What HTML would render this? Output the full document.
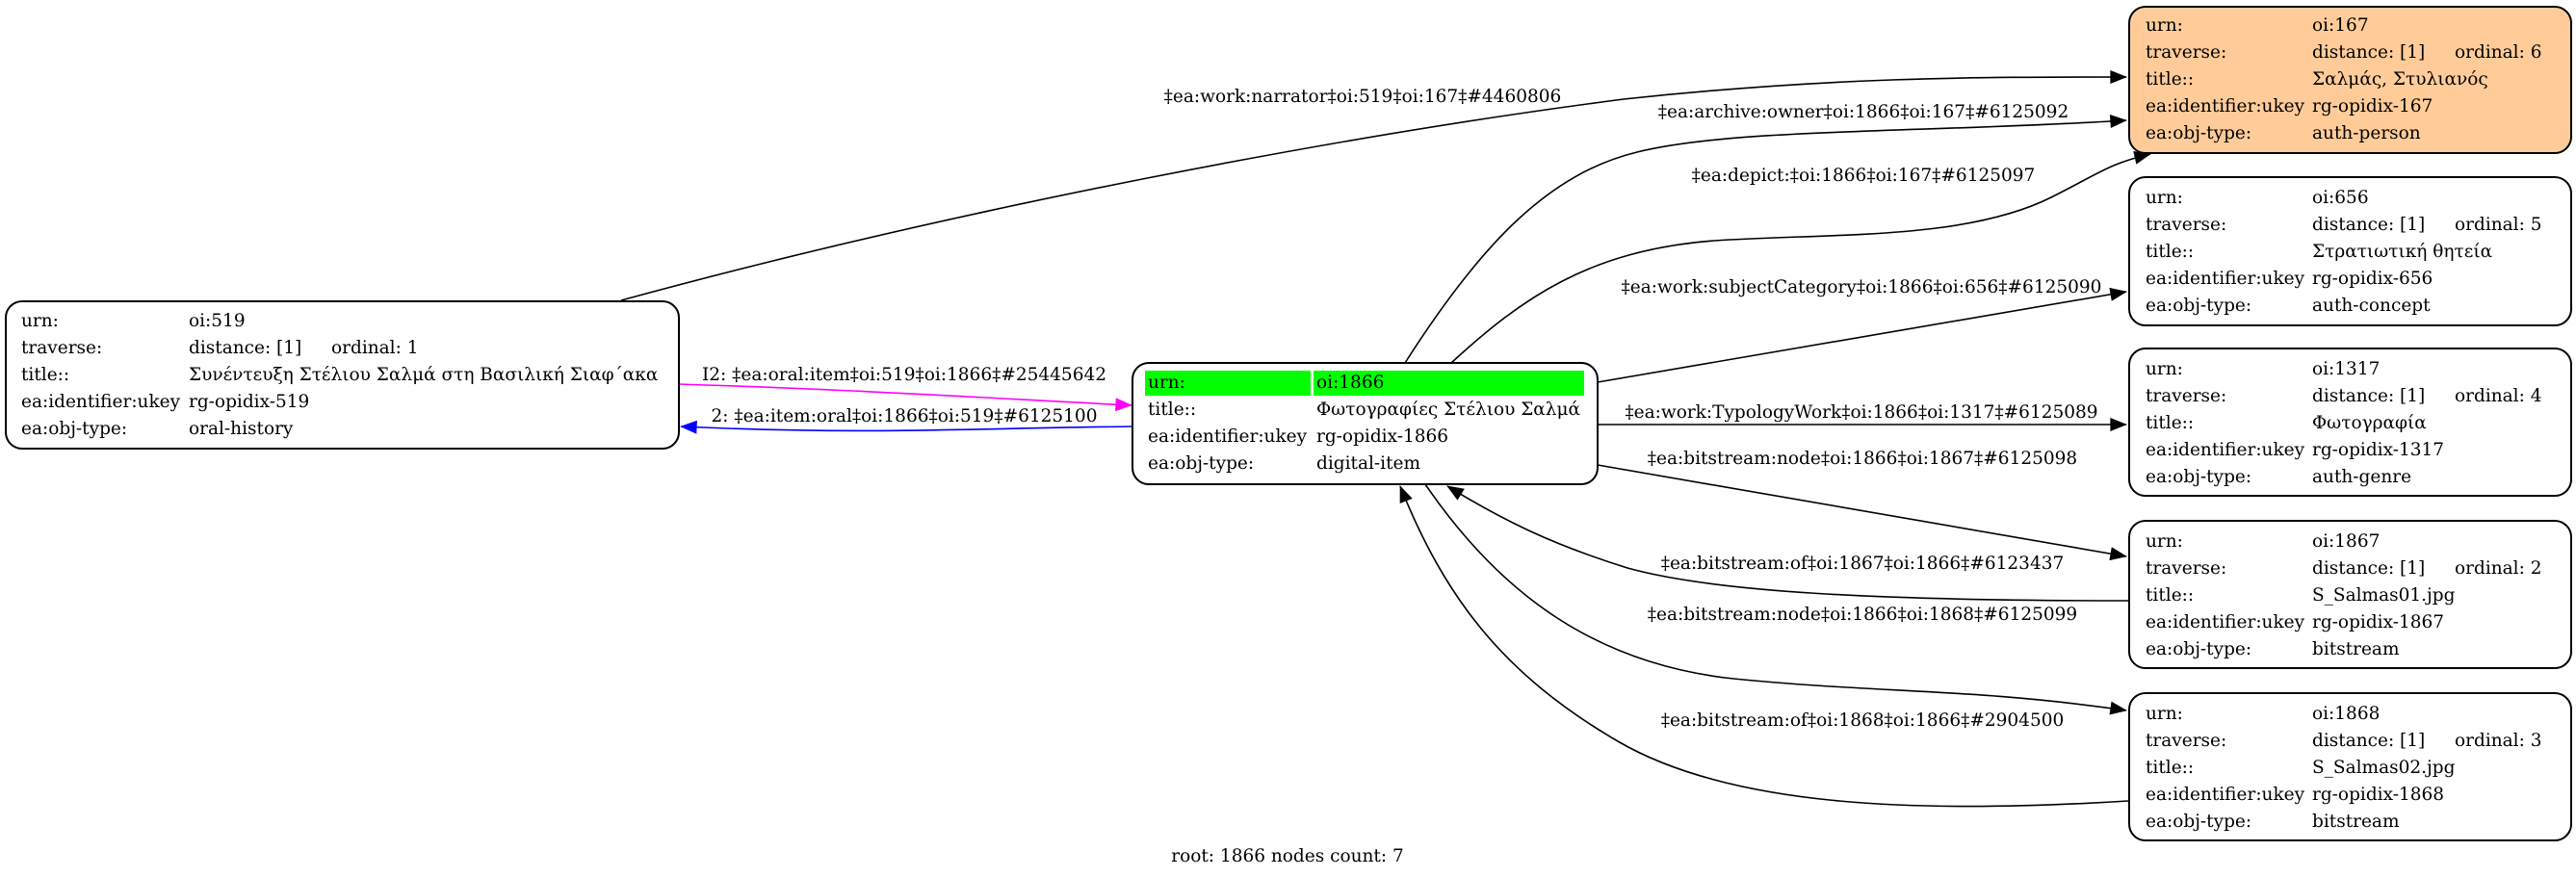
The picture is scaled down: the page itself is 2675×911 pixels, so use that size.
<!DOCTYPE html>
<html><head><meta charset="utf-8"><style>
html,body{margin:0;padding:0;background:#fff;}
svg{display:block;}
text{font-family:"DejaVu Serif","Liberation Serif",serif;font-size:18.5px;fill:#000;}
</style></head><body>
<svg width="2675" height="911" viewBox="0 0 2675 911" xmlns="http://www.w3.org/2000/svg">
<defs>
<marker id="ak" viewBox="0 0 10 8" markerWidth="20" markerHeight="14" refX="9.5" refY="4" orient="auto" markerUnits="userSpaceOnUse"><path d="M0,0 L10,4 L0,8 z" fill="#000"/></marker>
<marker id="am" viewBox="0 0 10 8" markerWidth="20" markerHeight="14" refX="9.5" refY="4" orient="auto" markerUnits="userSpaceOnUse"><path d="M0,0 L10,4 L0,8 z" fill="#f0f"/></marker>
<marker id="abl" viewBox="0 0 10 8" markerWidth="20" markerHeight="14" refX="9.5" refY="4" orient="auto" markerUnits="userSpaceOnUse"><path d="M0,0 L10,4 L0,8 z" fill="#00f"/></marker>
</defs>
<g fill="none" stroke="#000" stroke-width="1.6">
<path d="M645,312 C1000,215 1400,140 1686,103 C1900,80 2050,80 2208,80" marker-end="url(#ak)"/>
<path d="M1459,377 C1540,250 1610,180 1700,158 C1800,133 2000,138 2208,125" marker-end="url(#ak)"/>
<path d="M1507,377 C1580,310 1650,260 1780,250 C1900,242 2040,250 2130,205 C2180,180 2190,170 2233,160" marker-end="url(#ak)"/>
<path d="M1659,397 L2208,303" marker-end="url(#ak)"/>
<path d="M1659,441 L2208,441" marker-end="url(#ak)"/>
<path d="M1659,483 L2208,578" marker-end="url(#ak)"/>
<path d="M2210,624 C1950,624 1780,615 1690,590 C1610,565 1560,540 1503,505" marker-end="url(#ak)"/>
<path d="M1480,503 C1560,620 1660,690 1800,705 C1950,720 2050,715 2208,738" marker-end="url(#ak)"/>
<path d="M2210,832 C2000,845 1800,840 1680,770 C1560,700 1500,620 1454,505" marker-end="url(#ak)"/>
<path d="M704,399 C900,405 1050,415 1175,421" stroke="#f0f" marker-end="url(#am)"/>
<path d="M1176,443 C1000,445 900,452 707,443" stroke="#00f" marker-end="url(#abl)"/>
</g>
<rect x="2211" y="7" width="459" height="152" rx="17" fill="#ffcc99" stroke="#000" stroke-width="2"/>
<rect x="2211" y="184" width="459" height="154" rx="17" fill="#fff" stroke="#000" stroke-width="2"/>
<rect x="2211" y="362" width="459" height="153" rx="17" fill="#fff" stroke="#000" stroke-width="2"/>
<rect x="2211" y="541" width="459" height="153" rx="17" fill="#fff" stroke="#000" stroke-width="2"/>
<rect x="2211" y="720" width="459" height="153" rx="17" fill="#fff" stroke="#000" stroke-width="2"/>
<rect x="6" y="313" width="699" height="153" rx="17" fill="#fff" stroke="#000" stroke-width="2"/>
<rect x="1176" y="377" width="483" height="126" rx="17" fill="#fff" stroke="#000" stroke-width="2"/>
<rect x="1189" y="385" width="172" height="26" fill="#00ff00"/>
<rect x="1364" y="385" width="281" height="26" fill="#00ff00"/>

<g>
<text x="2228" y="32">urn:</text><text x="2401" y="32">oi:167</text>
<text x="2228" y="60">traverse:</text><text x="2401" y="60">distance: [1]</text><text x="2549" y="60">ordinal: 6</text>
<text x="2228" y="88">title::</text><text x="2401" y="88">Σαλμάς, Στυλιανός</text>
<text x="2228" y="116">ea:identifier:ukey</text><text x="2401" y="116">rg-opidix-167</text>
<text x="2228" y="144">ea:obj-type:</text><text x="2401" y="144">auth-person</text>
</g>
<g transform="translate(0,179)">
<text x="2228" y="32">urn:</text><text x="2401" y="32">oi:656</text>
<text x="2228" y="60">traverse:</text><text x="2401" y="60">distance: [1]</text><text x="2549" y="60">ordinal: 5</text>
<text x="2228" y="88">title::</text><text x="2401" y="88">Στρατιωτική θητεία</text>
<text x="2228" y="116">ea:identifier:ukey</text><text x="2401" y="116">rg-opidix-656</text>
<text x="2228" y="144">ea:obj-type:</text><text x="2401" y="144">auth-concept</text>
</g>
<g transform="translate(0,357)">
<text x="2228" y="32">urn:</text><text x="2401" y="32">oi:1317</text>
<text x="2228" y="60">traverse:</text><text x="2401" y="60">distance: [1]</text><text x="2549" y="60">ordinal: 4</text>
<text x="2228" y="88">title::</text><text x="2401" y="88">Φωτογραφία</text>
<text x="2228" y="116">ea:identifier:ukey</text><text x="2401" y="116">rg-opidix-1317</text>
<text x="2228" y="144">ea:obj-type:</text><text x="2401" y="144">auth-genre</text>
</g>
<g transform="translate(0,536)">
<text x="2228" y="32">urn:</text><text x="2401" y="32">oi:1867</text>
<text x="2228" y="60">traverse:</text><text x="2401" y="60">distance: [1]</text><text x="2549" y="60">ordinal: 2</text>
<text x="2228" y="88">title::</text><text x="2401" y="88">S_Salmas01.jpg</text>
<text x="2228" y="116">ea:identifier:ukey</text><text x="2401" y="116">rg-opidix-1867</text>
<text x="2228" y="144">ea:obj-type:</text><text x="2401" y="144">bitstream</text>
</g>
<g transform="translate(0,715)">
<text x="2228" y="32">urn:</text><text x="2401" y="32">oi:1868</text>
<text x="2228" y="60">traverse:</text><text x="2401" y="60">distance: [1]</text><text x="2549" y="60">ordinal: 3</text>
<text x="2228" y="88">title::</text><text x="2401" y="88">S_Salmas02.jpg</text>
<text x="2228" y="116">ea:identifier:ukey</text><text x="2401" y="116">rg-opidix-1868</text>
<text x="2228" y="144">ea:obj-type:</text><text x="2401" y="144">bitstream</text>
</g>
<g>
<text x="22" y="339">urn:</text><text x="196" y="339">oi:519</text>
<text x="22" y="367">traverse:</text><text x="196" y="367">distance: [1]</text><text x="344" y="367">ordinal: 1</text>
<text x="22" y="395">title::</text><text x="196" y="395">Συνέντευξη Στέλιου Σαλμά στη Βασιλική Σιαφ΄ακα</text>
<text x="22" y="423">ea:identifier:ukey</text><text x="196" y="423">rg-opidix-519</text>
<text x="22" y="451">ea:obj-type:</text><text x="196" y="451">oral-history</text>
</g>
<g>
<text x="1192" y="403">urn:</text><text x="1367" y="403">oi:1866</text>
<text x="1192" y="431">title::</text><text x="1367" y="431">Φωτογραφίες Στέλιου Σαλμά</text>
<text x="1192" y="459">ea:identifier:ukey</text><text x="1367" y="459">rg-opidix-1866</text>
<text x="1192" y="487">ea:obj-type:</text><text x="1367" y="487">digital-item</text>
</g>
<g text-anchor="middle">
<text x="1415" y="106">‡ea:work:narrator‡oi:519‡oi:167‡#4460806</text>
<text x="1935" y="122">‡ea:archive:owner‡oi:1866‡oi:167‡#6125092</text>
<text x="1935" y="188">‡ea:depict:‡oi:1866‡oi:167‡#6125097</text>
<text x="1933" y="304">‡ea:work:subjectCategory‡oi:1866‡oi:656‡#6125090</text>
<text x="1933" y="434">‡ea:work:TypologyWork‡oi:1866‡oi:1317‡#6125089</text>
<text x="1934" y="482">‡ea:bitstream:node‡oi:1866‡oi:1867‡#6125098</text>
<text x="1934" y="591">‡ea:bitstream:of‡oi:1867‡oi:1866‡#6123437</text>
<text x="1934" y="644">‡ea:bitstream:node‡oi:1866‡oi:1868‡#6125099</text>
<text x="1934" y="754">‡ea:bitstream:of‡oi:1868‡oi:1866‡#2904500</text>
<text x="939" y="395">I2: ‡ea:oral:item‡oi:519‡oi:1866‡#25445642</text>
<text x="939" y="438">2: ‡ea:item:oral‡oi:1866‡oi:519‡#6125100</text>
<text x="1337" y="895">root: 1866 nodes count: 7</text>
</g>
</svg>
</body></html>
